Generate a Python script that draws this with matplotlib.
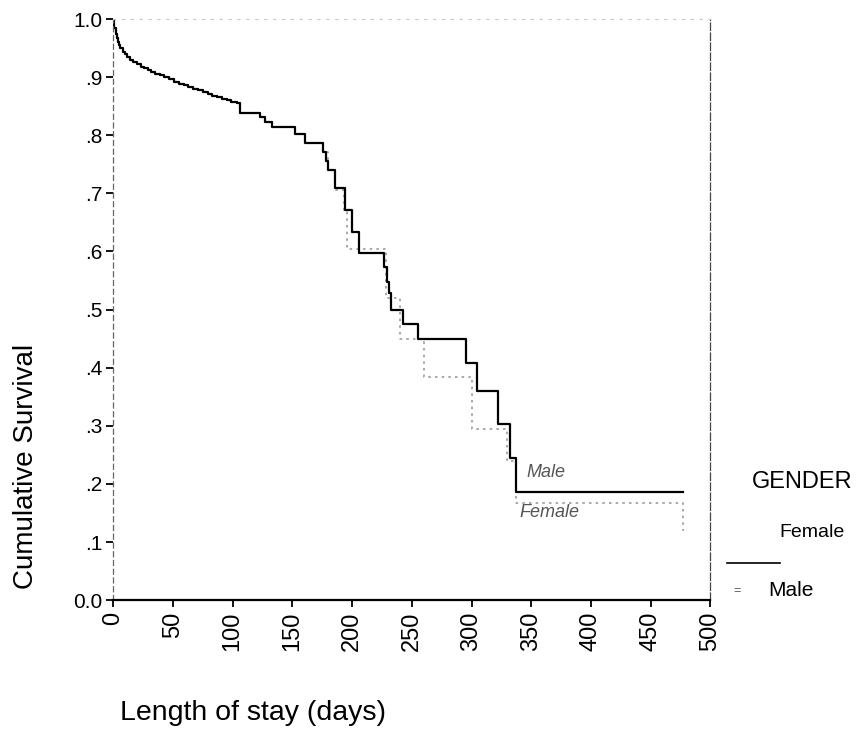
import matplotlib.pyplot as plt
from matplotlib.lines import Line2D

plt.rcParams['font.family'] = ['Liberation Sans', 'DejaVu Sans']

# Kaplan-Meier steps (days, cumulative survival)
# both groups overlap in the early part
shared_days = [0, 1, 2, 3, 4, 5, 6, 8, 10, 12, 14, 17, 20, 23, 26, 29, 32, 35,
               39, 43, 47, 51, 55, 59, 63, 67, 71, 75, 79, 83, 87, 91, 95, 99,
               104, 106, 123, 127, 133, 152, 161, 176]
shared_surv = [1.0, 0.985, 0.975, 0.967, 0.96, 0.955, 0.95, 0.944, 0.939,
               0.934, 0.93, 0.926, 0.922, 0.918, 0.915, 0.912, 0.909, 0.906,
               0.903, 0.90, 0.896, 0.892, 0.889, 0.886, 0.883, 0.88, 0.877,
               0.874, 0.871, 0.868, 0.866, 0.863, 0.86, 0.858, 0.855, 0.838,
               0.831, 0.823, 0.814, 0.802, 0.787, 0.771]

female_days = [178, 180, 186, 194, 200, 206, 227, 229, 231, 233, 243, 255, 295,
               305, 322, 332, 337, 477]
female_surv = [0.756, 0.74, 0.709, 0.671, 0.633, 0.597, 0.573, 0.547, 0.528,
               0.50, 0.475, 0.449, 0.408, 0.36, 0.303, 0.245, 0.186, 0.186]

male_days = [180, 186, 193, 196, 228, 240, 260, 300, 330, 337, 477, 478]
male_surv = [0.74, 0.705, 0.671, 0.605, 0.52, 0.45, 0.384, 0.295, 0.24, 0.167,
             0.12, 0.12]

x_ticks = [0, 50, 100, 150, 200, 250, 300, 350, 400, 450, 500]
y_ticks = [0.0, 0.1, 0.2, 0.3, 0.4, 0.5, 0.6, 0.7, 0.8, 0.9, 1.0]
y_tick_labels = ['0.0', '.1', '.2', '.3', '.4', '.5', '.6', '.7', '.8', '.9', '1.0']

fig = plt.figure(figsize=(8.57, 7.31), dpi=100)
ax = fig.add_axes([0.132, 0.179, 0.697, 0.795])

ax.step(shared_days + male_days, shared_surv + male_surv, where='post',
        color='#9a9a9a', lw=1.2, linestyle=(0, (1.5, 2.5)))
ax.step(shared_days + female_days, shared_surv + female_surv, where='post',
        color='black', lw=1.6)

ax.set_xlim(0, 500)
ax.set_ylim(0, 1.0)
ax.set_xticks(x_ticks)
ax.set_xticklabels([str(v) for v in x_ticks], rotation=90, fontsize=17)
ax.set_yticks(y_ticks)
ax.set_yticklabels(y_tick_labels, fontsize=15)
ax.tick_params(axis='both', direction='out', length=5, width=1.3, colors='black')
ax.tick_params(axis='y', pad=3)

ax.spines['bottom'].set_linewidth(1.6)
ax.spines['top'].set_color('#c8c8c8')
ax.spines['top'].set_linestyle((0, (2, 6)))
ax.spines['top'].set_linewidth(0.8)
ax.spines['right'].set_color('#444444')
ax.spines['right'].set_linestyle((0, (6, 2)))
ax.spines['right'].set_linewidth(0.9)
ax.spines['left'].set_color('#666666')
ax.spines['left'].set_linestyle((0, (4, 3)))
ax.spines['left'].set_linewidth(0.9)

# faint hand labels inside the plot
ax.text(362, 0.205, 'Male', fontsize=13, style='italic', color='#555555',
        ha='center', va='bottom')
ax.text(365, 0.165, 'Female', fontsize=13, style='italic', color='#555555',
        ha='center', va='top')

fig.text(0.030, 0.362, 'Cumulative Survival', rotation=90, fontsize=20,
         ha='center', va='center')
fig.text(0.14, 0.025, 'Length of stay (days)', fontsize=20.5, ha='left',
         va='center')

# legend
fig.text(0.877, 0.34, 'GENDER', fontsize=17, ha='left', va='center')
fig.text(0.910, 0.271, 'Female', fontsize=14, ha='left', va='center')
fig.add_artist(Line2D([0.848, 0.910], [0.230, 0.230], color='black', lw=1.2))
fig.text(0.860, 0.192, '=', fontsize=9, ha='center', va='center', color='#555555')
fig.text(0.896, 0.192, 'Male', fontsize=15, ha='left', va='center')

fig.savefig('out.png', dpi=100)
